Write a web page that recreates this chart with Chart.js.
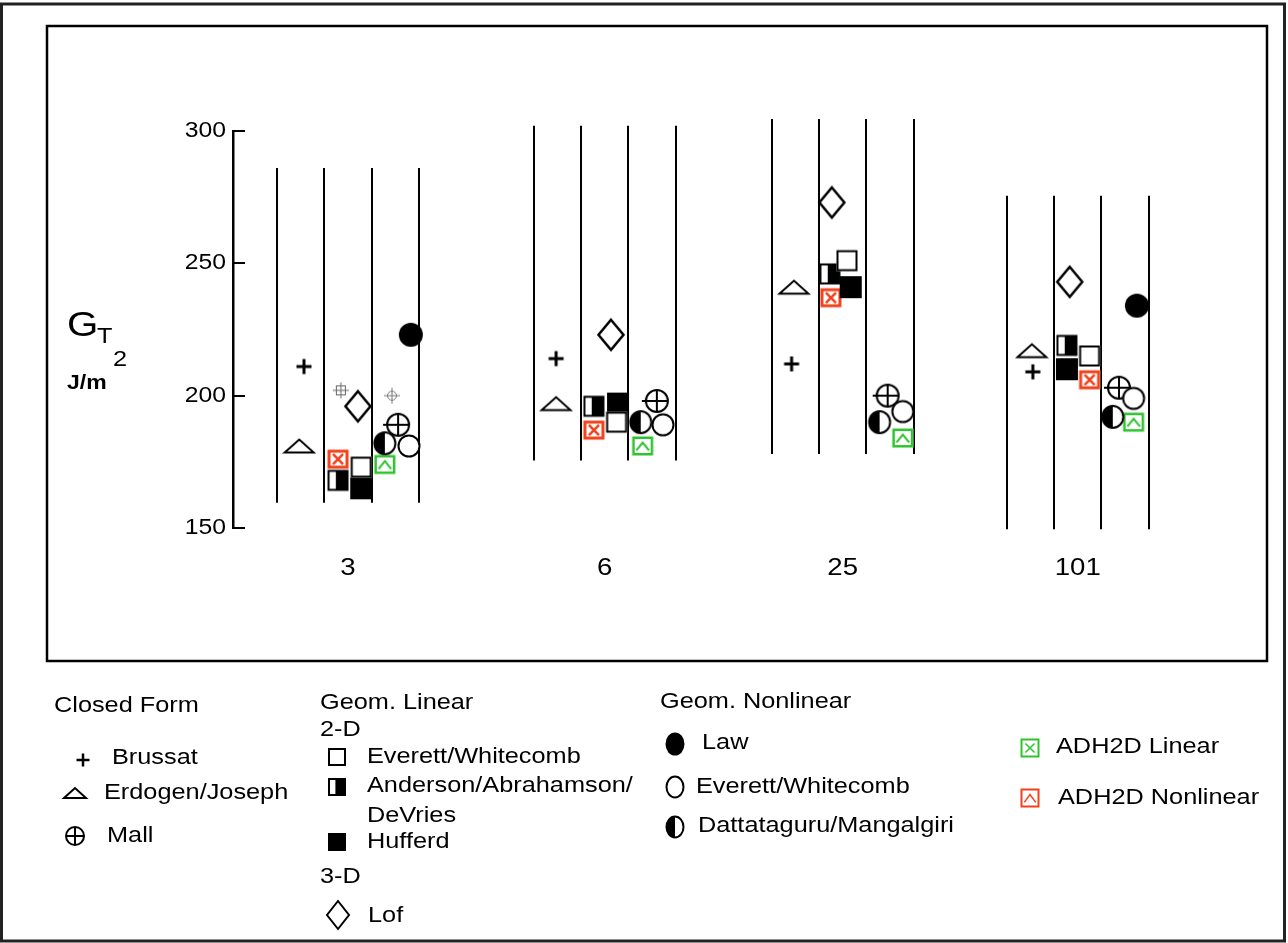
<!DOCTYPE html>
<html>
<head>
<meta charset="utf-8">
<script src="https://cdn.jsdelivr.net/npm/chart.js@4.4.1/dist/chart.umd.min.js"></script>
<style>
  html, body { margin: 0; padding: 0; background: #fff; }
  canvas { display: block; }
</style>
</head>
<body>
<canvas id="chart" width="1288" height="943"></canvas>
<script>
// ---------- values (G_T in J/m^2) ----------
const categories = ['3', '6', '25', '101'];
const yTickValues = [150, 200, 250, 300];

// Closed form
const brussat = [211, 214, 212, 209];
const erdogenJoseph = [181, 197, 241, 217];
const mall = [189, 198, 200, 203];
// Geom. linear, 2-D
const everettWhitecombLin = [173, 190, 251, 215];
const andersonAbrahamson = [168, 196, 246, 219];
const hufferd = [165, 197, 241, 210];
// Geom. linear, 3-D
const lof = [196, 223, 273, 243];
const auxSquareCross = [202, null, null, null];
const auxCircleCross = [200, null, null, null];
// Geom. nonlinear
const law = [223, null, null, 234];
const everettWhitecombNl = [181, 189, 194, 199];
const dattataguru = [182, 190, 190, 192];
// ADH2D
const adh2dLinear = [174, 181, 184, 190];
const adh2dNonlinear = [176, 187, 237, 206];

// vertical extent of the column separators of each group
const separatorTop = [286, 302, 304.5, 275.5];
const separatorBottom = [159.5, 175.5, 178, 149.5];

// ---------- layout ----------
// x axis is measured in column widths; each group has 3 columns between 4 separators
const groupStart = [0, 5.43, 10.46, 15.43];
const slots = {
  brussat:    [0.57, 0.47, 0.42, 0.55],
  erdogen:    [0.47, 0.47, 0.47, 0.53],
  mall:       [2.56, 2.60, 2.45, 2.37],
  everettLin: [1.78, 1.75, 1.59, 1.75],
  anderson:   [1.29, 1.27, 1.23, 1.27],
  hufferd:    [1.78, 1.78, 1.67, 1.27],
  lof:        [1.71, 1.63, 1.27, 1.33],
  auxSquare:  [1.35, null, null, null],
  auxCircle:  [2.43, null, null, null],
  law:        [2.83, null, null, 2.75],
  everettNl:  [2.79, 2.73, 2.77, 2.68],
  datta:      [2.28, 2.26, 2.28, 2.24],
  adhLin:     [2.28, 2.30, 2.77, 2.68],
  adhNl:      [1.29, 1.27, 1.25, 1.75]
};

const INK = '#000';
const GREEN = '#2EC42E';
const RED = '#F2411B';
const FONT = '"Liberation Sans", Arial, sans-serif';
const WIDEN = 1.15;

// ---------- marker painters (drawn around 0,0) ----------
function paintPlus(g, r, lw) {
  g.strokeStyle = INK; g.lineWidth = lw;
  g.beginPath();
  g.moveTo(-r, 0); g.lineTo(r, 0);
  g.moveTo(0, -r); g.lineTo(0, r);
  g.stroke();
}
function paintTriangle(g, hw, hh, lw) {
  g.beginPath();
  g.moveTo(-hw, hh); g.lineTo(0, -hh); g.lineTo(hw, hh); g.closePath();
  g.fillStyle = '#fff'; g.fill();
  g.strokeStyle = INK; g.lineWidth = lw; g.lineJoin = 'miter'; g.stroke();
}
function paintCrossCircle(g, r, ext, lw) {
  g.beginPath(); g.arc(0, 0, r, 0, Math.PI * 2);
  g.fillStyle = '#fff'; g.fill();
  g.strokeStyle = INK; g.lineWidth = lw; g.stroke();
  g.beginPath();
  g.moveTo(-r - ext, 0); g.lineTo(r, 0);
  g.moveTo(0, -r); g.lineTo(0, r);
  g.stroke();
}
function paintSquare(g, s, kind, lw) {
  const h = s / 2;
  if (kind === 'full') {
    g.fillStyle = INK; g.fillRect(-h, -h, s, s);
    return;
  }
  if (kind === 'half') {
    g.fillStyle = INK; g.fillRect(-h, -h, s, s);
    g.fillStyle = '#fff'; g.fillRect(-h + lw, -h + lw, s * 0.3, s - 2 * lw);
    return;
  }
  g.fillStyle = '#fff'; g.fillRect(-h, -h, s, s);
  g.strokeStyle = INK; g.lineWidth = lw;
  g.strokeRect(-h + lw / 2, -h + lw / 2, s - lw, s - lw);
}
function paintDiamond(g, hw, hh, lw) {
  g.beginPath();
  g.moveTo(0, -hh); g.lineTo(hw, 0); g.lineTo(0, hh); g.lineTo(-hw, 0); g.closePath();
  g.fillStyle = '#fff'; g.fill();
  g.strokeStyle = INK; g.lineWidth = lw; g.lineJoin = 'miter'; g.stroke();
}
function paintDisc(g, rx, ry, kind, lw) {
  g.beginPath(); g.ellipse(0, 0, rx, ry, 0, 0, Math.PI * 2);
  if (kind === 'full') { g.fillStyle = INK; g.fill(); return; }
  g.fillStyle = '#fff'; g.fill();
  if (kind === 'half') {
    g.beginPath(); g.ellipse(0, 0, rx, ry, 0, Math.PI / 2, Math.PI * 1.5); g.closePath();
    g.fillStyle = INK; g.fill();
  }
  g.beginPath(); g.ellipse(0, 0, rx, ry, 0, 0, Math.PI * 2);
  g.strokeStyle = INK; g.lineWidth = lw; g.stroke();
}
function paintBox(g, w, h, color, glyph, lw, glw) {
  g.fillStyle = '#fff'; g.fillRect(-w / 2, -h / 2, w, h);
  g.strokeStyle = color; g.lineWidth = lw;
  g.strokeRect(-w / 2 + lw / 2, -h / 2 + lw / 2, w - lw, h - lw);
  g.lineWidth = glw;
  g.beginPath();
  if (glyph === 'x') {
    const a = w * 0.24;
    g.moveTo(-a, -a); g.lineTo(a, a);
    g.moveTo(a, -a); g.lineTo(-a, a);
  } else {
    const a = w * 0.3, b = h * 0.18;
    g.moveTo(-a, b + 1); g.lineTo(0, -b); g.lineTo(a, b + 1);
  }
  g.stroke();
}
function paintSmallSquareCross(g) {
  g.strokeStyle = '#666'; g.lineWidth = 1;
  g.strokeRect(-4.5, -4.5, 9, 9);
  g.beginPath();
  g.moveTo(-8, 0); g.lineTo(8, 0);
  g.moveTo(0, -8); g.lineTo(0, 8);
  g.stroke();
}
function paintSmallCircleCross(g) {
  g.strokeStyle = '#777'; g.lineWidth = 1;
  g.beginPath(); g.arc(0, 0, 4.5, 0, Math.PI * 2); g.stroke();
  g.beginPath();
  g.moveTo(-8, 0); g.lineTo(8, 0);
  g.moveTo(0, -8); g.lineTo(0, 8);
  g.stroke();
}

function sprite(w, h, paint) {
  const cv = document.createElement('canvas');
  cv.width = w; cv.height = h;
  const g = cv.getContext('2d');
  g.translate(w / 2, h / 2);
  paint(g);
  return cv;
}

const marks = {
  plus: sprite(20, 20, g => paintPlus(g, 7.5, 3)),
  triangle: sprite(34, 20, g => paintTriangle(g, 14.5, 6.5, 2)),
  mall: sprite(36, 28, g => paintCrossCircle(g, 11, 4, 2)),
  squareOpen: sprite(24, 24, g => paintSquare(g, 21, 'open', 2)),
  squareHalf: sprite(24, 24, g => paintSquare(g, 21, 'half', 2)),
  squareFull: sprite(24, 24, g => paintSquare(g, 22, 'full', 2)),
  diamond: sprite(32, 36, g => paintDiamond(g, 12.5, 15, 2.5)),
  law: sprite(28, 28, g => paintDisc(g, 12, 12, 'full', 2)),
  circleOpen: sprite(28, 28, g => paintDisc(g, 10.5, 10.5, 'open', 2)),
  circleHalf: sprite(28, 28, g => paintDisc(g, 10.5, 11, 'half', 2)),
  adhLin: sprite(26, 24, g => paintBox(g, 21, 19, GREEN, 'caret', 2.5, 2)),
  adhNl: sprite(26, 24, g => paintBox(g, 21, 19, RED, 'x', 3, 2.5)),
  auxSquare: sprite(20, 20, paintSmallSquareCross),
  auxCircle: sprite(20, 20, paintSmallCircleCross)
};

function series(label, values, slot, style) {
  const data = [];
  values.forEach((v, i) => {
    if (v !== null) data.push({ x: groupStart[i] + slot[i], y: v });
  });
  return { label, data, pointStyle: style, pointRadius: 10, pointHoverRadius: 10, showLine: false };
}

const datasets = [
  series('Brussat', brussat, slots.brussat, marks.plus),
  series('Erdogen/Joseph', erdogenJoseph, slots.erdogen, marks.triangle),
  series('Everett/Whitecomb (linear)', everettWhitecombLin, slots.everettLin, marks.squareOpen),
  series('Anderson/Abrahamson/DeVries', andersonAbrahamson, slots.anderson, marks.squareHalf),
  series('Hufferd', hufferd, slots.hufferd, marks.squareFull),
  series('Lof', lof, slots.lof, marks.diamond),
  series('3-D (square)', auxSquareCross, slots.auxSquare, marks.auxSquare),
  series('3-D (circle)', auxCircleCross, slots.auxCircle, marks.auxCircle),
  series('ADH2D Nonlinear', adh2dNonlinear, slots.adhNl, marks.adhNl),
  series('Law', law, slots.law, marks.law),
  series('Everett/Whitecomb (nonlinear)', everettWhitecombNl, slots.everettNl, marks.circleOpen),
  series('Dattataguru/Mangalgiri', dattataguru, slots.datta, marks.circleHalf),
  series('Mall', mall, slots.mall, marks.mall),
  series('ADH2D Linear', adh2dLinear, slots.adhLin, marks.adhLin)
];

// ---------- legend block ----------
const legendText = [
  { text: 'Closed Form', x: 54, y: 706 },
  { text: 'Brussat', x: 112, y: 758 },
  { text: 'Erdogen/Joseph', x: 104, y: 793 },
  { text: 'Mall', x: 107, y: 836 },
  { text: 'Geom. Linear', x: 320, y: 703 },
  { text: '2-D', x: 320, y: 730 },
  { text: 'Everett/Whitecomb', x: 367, y: 757 },
  { text: 'Anderson/Abrahamson/', x: 367, y: 786 },
  { text: 'DeVries', x: 367, y: 816 },
  { text: 'Hufferd', x: 367, y: 842 },
  { text: '3-D', x: 320, y: 877 },
  { text: 'Lof', x: 368, y: 916 },
  { text: 'Geom. Nonlinear', x: 660, y: 702 },
  { text: 'Law', x: 702, y: 743 },
  { text: 'Everett/Whitecomb', x: 696, y: 787 },
  { text: 'Dattataguru/Mangalgiri', x: 698, y: 826 },
  { text: 'ADH2D Linear', x: 1056, y: 747 },
  { text: 'ADH2D Nonlinear', x: 1058, y: 798 }
];
const legendMarks = [
  { x: 83, y: 760, paint: g => paintPlus(g, 6.5, 2.5) },
  { x: 75, y: 793, paint: g => paintTriangle(g, 11, 5, 2) },
  { x: 75, y: 836, paint: g => paintCrossCircle(g, 9, 0, 2) },
  { x: 337, y: 757, paint: g => paintSquare(g, 18, 'open', 2) },
  { x: 337, y: 787, paint: g => paintSquare(g, 18, 'half', 2) },
  { x: 337, y: 842, paint: g => paintSquare(g, 18, 'full', 2) },
  { x: 338, y: 915, paint: g => paintDiamond(g, 11, 14, 2) },
  { x: 675, y: 744, paint: g => paintDisc(g, 9.5, 11.5, 'full', 2) },
  { x: 675, y: 787, paint: g => paintDisc(g, 8.5, 10.5, 'open', 2) },
  { x: 675, y: 827, paint: g => paintDisc(g, 8.5, 10.5, 'half', 2) },
  { x: 1030, y: 748, paint: g => paintBox(g, 19, 19, GREEN, 'x', 2, 1.5) },
  { x: 1030, y: 798, paint: g => paintBox(g, 19, 19, RED, 'caret', 2, 1.5) }
];

// ---------- plugins ----------
// text in this figure is set slightly wide; stretch every fillText horizontally about its anchor
const widenText = {
  id: 'widenText',
  beforeInit(chart) {
    const ctx = chart.ctx;
    const base = ctx.fillText;
    ctx.fillText = function (text, x, y, maxWidth) {
      this.save();
      this.translate(x, y);
      this.scale(WIDEN, 1);
      if (maxWidth === undefined) base.call(this, text, 0, 0);
      else base.call(this, text, 0, 0, maxWidth / WIDEN);
      this.restore();
    };
  }
};

const frames = {
  id: 'frames',
  beforeDraw(chart) {
    const ctx = chart.ctx;
    ctx.save();
    ctx.fillStyle = '#fff';
    ctx.fillRect(0, 0, chart.width, chart.height);
    ctx.strokeStyle = '#222'; ctx.lineWidth = 3;
    ctx.strokeRect(1.5, 4, 1283, 937);
    ctx.strokeStyle = INK; ctx.lineWidth = 2.5;
    ctx.strokeRect(47, 26, 1220, 635);
    ctx.restore();
  }
};

const separators = {
  id: 'separators',
  beforeDatasetsDraw(chart) {
    const { ctx, scales: { x, y } } = chart;
    ctx.save();
    ctx.strokeStyle = INK; ctx.lineWidth = 2;
    groupStart.forEach((start, i) => {
      const top = y.getPixelForValue(separatorTop[i]);
      const bottom = y.getPixelForValue(separatorBottom[i]);
      for (let k = 0; k < 4; k++) {
        const px = Math.round(x.getPixelForValue(start + k));
        ctx.beginPath();
        ctx.moveTo(px, top); ctx.lineTo(px, bottom);
        ctx.stroke();
      }
    });
    ctx.restore();
  }
};

const decorations = {
  id: 'decorations',
  afterDraw(chart) {
    const { ctx, scales: { y } } = chart;
    ctx.save();
    // inward tick marks on the value axis
    ctx.strokeStyle = INK; ctx.lineWidth = 2;
    y.ticks.forEach(t => {
      const py = Math.round(y.getPixelForValue(t.value));
      ctx.beginPath();
      ctx.moveTo(y.right, py); ctx.lineTo(y.right + 12, py);
      ctx.stroke();
    });

    // axis title G_T  J/m^2
    ctx.fillStyle = INK;
    ctx.textAlign = 'left';
    ctx.textBaseline = 'alphabetic';
    ctx.font = '35px ' + FONT;
    ctx.fillText('G', 67, 336);
    ctx.font = '22px ' + FONT;
    ctx.fillText('T', 97, 343);
    ctx.font = 'bold 20px ' + FONT;
    ctx.fillText('J/m', 67, 389);
    ctx.font = '22px ' + FONT;
    ctx.fillText('2', 113, 366);

    // legend
    ctx.font = '22px ' + FONT;
    ctx.textBaseline = 'middle';
    legendText.forEach(t => ctx.fillText(t.text, t.x, t.y));
    legendMarks.forEach(m => {
      ctx.save();
      ctx.translate(m.x, m.y);
      m.paint(ctx);
      ctx.restore();
    });
    ctx.restore();
  }
};

new Chart(document.getElementById('chart'), {
  type: 'scatter',
  data: { datasets },
  plugins: [widenText, frames, separators, decorations],
  options: {
    responsive: false,
    animation: false,
    devicePixelRatio: 1,
    events: [],
    layout: { padding: { left: 0, top: 131, right: 78, bottom: 355 } },
    plugins: {
      legend: { display: false },
      tooltip: { enabled: false }
    },
    scales: {
      x: {
        type: 'linear',
        min: -44 / 47.3,
        max: (1210 - 277) / 47.3,
        afterFit(scale) { scale.height = 60; },
        afterBuildTicks(scale) {
          scale.ticks = groupStart.map(s => ({ value: s + 1.5 }));
        },
        ticks: {
          callback: (value, index) => categories[index],
          autoSkip: false,
          maxRotation: 0,
          padding: 26,
          color: INK,
          font: { family: FONT, size: 24 }
        },
        grid: { display: false, drawTicks: false },
        border: { display: false }
      },
      y: {
        type: 'linear',
        min: 150,
        max: 300,
        afterFit(scale) { scale.width = 233; },
        afterBuildTicks(scale) {
          scale.ticks = yTickValues.map(v => ({ value: v }));
        },
        ticks: {
          padding: 7,
          color: INK,
          font: { family: FONT, size: 21.5 }
        },
        grid: { display: true, drawOnChartArea: false, drawTicks: false },
        border: { display: true, color: INK, width: 2.5 }
      }
    }
  }
});
</script>
</body>
</html>
